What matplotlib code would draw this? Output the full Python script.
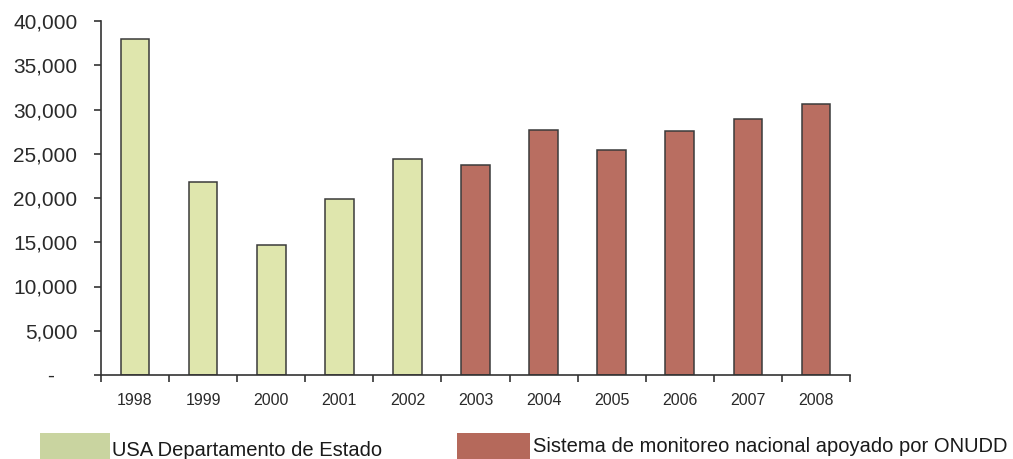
import matplotlib.pyplot as plt
from matplotlib.patches import Rectangle
from matplotlib.ticker import FuncFormatter
import numpy as np

plt.rcParams['font.family'] = ['Liberation Sans', 'DejaVu Sans']

# data
years = ['1998', '1999', '2000', '2001', '2002', '2003', '2004', '2005', '2006', '2007', '2008']
usa_vals = [38000, 21800, 14700, 19900, 24400]
onudd_vals = [23700, 27700, 25400, 27600, 28900, 30600]
legend_labels = ['USA Departamento de Estado', 'Sistema de monitoreo nacional apoyado por ONUDD']

green = '#dfe6ad'
red = '#b96e61'

fig = plt.figure(figsize=(10.13, 4.59), dpi=100)
ax = fig.add_axes([101 / 1013, 1 - 375 / 459, 749 / 1013, 354 / 459])

x = np.arange(len(years))
n_usa = len(usa_vals)
ax.bar(x[:n_usa], usa_vals, width=0.42, color=green, edgecolor='#3a3a3a', linewidth=1.1)
ax.bar(x[n_usa:], onudd_vals, width=0.42, color=red, edgecolor='#3a3a3a', linewidth=1.1)

ax.set_xlim(-0.5, len(years) - 0.5)
ax.set_ylim(0, 40000)
ax.set_yticks(np.arange(0, 40001, 5000))
ax.yaxis.set_major_formatter(FuncFormatter(lambda v, p: '-    ' if v == 0 else f'{int(v):,}'))
ax.set_xticks(x)
ax.set_xticklabels(years)
ax.set_xticks(np.arange(-0.5, len(years), 1), minor=True)

for s in ['top', 'right']:
    ax.spines[s].set_visible(False)
for s in ['left', 'bottom']:
    ax.spines[s].set_color('#333333')
    ax.spines[s].set_linewidth(1.2)

ax.tick_params(axis='y', length=5, width=1.2, color='#333333', labelsize=15, pad=12, labelcolor='#2a2a2a')
ax.tick_params(axis='x', which='major', length=0, labelsize=11.5, pad=13, labelcolor='#2a2a2a')
ax.tick_params(axis='x', which='minor', length=5, width=1.2, color='#333333')

# legend at bottom (cut off like the reference)
fig.patches.append(Rectangle((40 / 1013, 0), 70 / 1013, 26 / 459, transform=fig.transFigure,
                             facecolor='#c9d4a0', edgecolor='none'))
fig.text(112 / 1013, 1 - 450 / 459, legend_labels[0], fontsize=14.5, va='center', color='#1a1a1a')
fig.patches.append(Rectangle((457 / 1013, 0), 73 / 1013, 26 / 459, transform=fig.transFigure,
                             facecolor='#b5695b', edgecolor='none'))
fig.text(533 / 1013, 1 - 447 / 459, legend_labels[1], fontsize=14.5, va='center', color='#1a1a1a')

fig.savefig('out.png', dpi=100)
